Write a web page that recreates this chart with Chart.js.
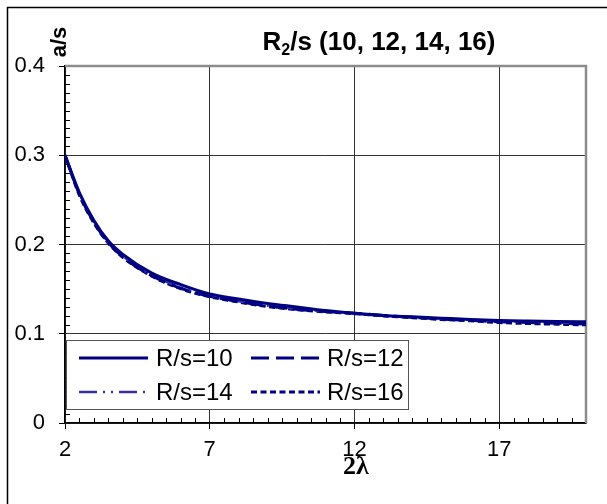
<!DOCTYPE html>
<html><head><meta charset="utf-8">
<script src="https://cdn.jsdelivr.net/npm/chart.js@4/dist/chart.umd.min.js"></script>
<style>html,body{margin:0;padding:0;background:#fff;overflow:hidden}#wrap{width:607px;height:504px;position:relative}</style>
</head><body><div id="wrap"><canvas id="c" width="607" height="504"></canvas></div>
<script>
// ---- data ----
const xValues = [2, 2.5, 3, 3.5, 4, 5, 6, 7, 8, 9, 10, 11, 12, 13, 14, 15, 16, 17, 18, 19, 20];
const r10 = [0.300, 0.258, 0.227, 0.204, 0.189, 0.168, 0.155, 0.1445, 0.139, 0.134, 0.130, 0.126, 0.123, 0.1205, 0.119, 0.1175, 0.116, 0.1148, 0.1142, 0.1138, 0.1135];
const r12 = [0.300, 0.256, 0.225, 0.202, 0.186, 0.165, 0.151, 0.142, 0.136, 0.131, 0.1275, 0.125, 0.123, 0.1205, 0.1185, 0.1165, 0.115, 0.1135, 0.1125, 0.1118, 0.111];
const r14 = [0.300, 0.257, 0.2255, 0.203, 0.187, 0.166, 0.152, 0.1425, 0.1365, 0.1315, 0.128, 0.125, 0.1228, 0.1205, 0.1187, 0.117, 0.1155, 0.1142, 0.1133, 0.1125, 0.1118];
const r16 = [0.300, 0.255, 0.224, 0.2015, 0.1855, 0.1645, 0.1505, 0.1415, 0.1355, 0.1305, 0.127, 0.1245, 0.1225, 0.120, 0.118, 0.116, 0.1145, 0.1125, 0.1115, 0.1107, 0.110];
const seriesLabels = ['R/s=10', 'R/s=12', 'R/s=14', 'R/s=16'];
const xTicks = [2, 7, 12, 17];
const yTicks = [0, 0.1, 0.2, 0.3, 0.4];
const yTickLabels = ['0', '0.1', '0.2', '0.3', '0.4'];
const titleMain = 'R';
const titleSub = '2';
const titleRest = '/s (10, 12, 14, 16)';
const yAxisTitle = 'a/s';
const xAxisTitle = '2λ';

const SANS = '"Liberation Sans", Arial, sans-serif';
const SERIF = '"Liberation Serif", "Times New Roman", serif';
const pts = arr => xValues.map((x, i) => ({x: x, y: arr[i]}));

const styles = [
  {color: '#000080', dash: [], width: 3},
  {color: '#000080', dash: [18, 7], width: 3},
  {color: '#33339f', dash: [18, 6, 2, 6, 2, 6], width: 2.5},
  {color: '#000080', dash: [6, 3.5], width: 3}
];
const seriesData = [r10, r12, r14, r16];

const decor = {
  id: 'decor',
  beforeDraw(chart) {
    const c = chart.ctx;
    c.save();
    c.fillStyle = '#fff';
    c.fillRect(0, 0, chart.width, chart.height);
    c.strokeStyle = '#000';
    c.lineWidth = 1.5;
    c.strokeRect(7.5, 7.5, 700, 700);
    c.restore();
  },
  beforeDatasetsDraw(chart) {
    const c = chart.ctx, a = chart.chartArea;
    const xs = chart.scales.x, ys = chart.scales.y;
    c.save();
    c.strokeStyle = '#000';
    c.lineWidth = 1;
    for (let k = 1; k < 40; k++) {
      if (k % 10 === 0) continue;
      const py = Math.round(ys.getPixelForValue(k / 100)) + 0.5;
      c.beginPath(); c.moveTo(a.left, py); c.lineTo(a.left + 5, py); c.stroke();
    }
    for (let k = 5; k < 40; k++) {
      const v = k / 2;
      if (xTicks.includes(v)) continue;
      const px = Math.round(xs.getPixelForValue(v)) + 0.5;
      c.beginPath(); c.moveTo(px, a.bottom); c.lineTo(px, a.bottom - 5); c.stroke();
    }
    c.strokeStyle = '#8c8c8c';
    c.lineWidth = 2.5;
    c.beginPath();
    c.moveTo(a.left, a.top); c.lineTo(a.right, a.top); c.lineTo(a.right, a.bottom);
    c.stroke();
    c.restore();
  },
  afterDatasetsDraw(chart) {
    const c = chart.ctx;
    c.save();
    const L = 66, T = 340, R = 409, B = 410;
    c.fillStyle = '#fff';
    c.fillRect(L, T, R - L, B - T);
    c.strokeStyle = '#555';
    c.lineWidth = 1;
    c.strokeRect(L + 0.5, T + 0.5, R - L - 1, B - T - 1);
    const cols = [[79, 148, 156], [251, 320, 327]];
    const rows = [358, 392];
    c.font = '24px ' + SANS;
    c.textBaseline = 'middle';
    c.textAlign = 'left';
    chart.data.datasets.forEach((ds, i) => {
      const col = cols[i % 2], ry = rows[Math.floor(i / 2)];
      c.strokeStyle = ds.borderColor;
      c.lineWidth = ds.borderWidth;
      c.setLineDash(ds.borderDash || []);
      c.beginPath(); c.moveTo(col[0], ry); c.lineTo(col[1], ry); c.stroke();
      c.setLineDash([]);
      c.fillStyle = '#000';
      c.fillText(ds.label, col[2], ry + 1);
    });
    c.restore();
  },
  afterDraw(chart) {
    const c = chart.ctx;
    c.save();
    c.fillStyle = '#000';
    const fMain = 'bold 26px ' + SANS, fSub = 'bold 16px ' + SANS;
    c.font = fMain; const w1 = c.measureText(titleMain).width;
    const w3 = c.measureText(titleRest).width;
    c.font = fSub; const w2 = c.measureText(titleSub).width;
    let x = 379 - (w1 + w2 + w3) / 2;
    const base = 50;
    c.textBaseline = 'alphabetic'; c.textAlign = 'left';
    c.font = fMain; c.fillText(titleMain, x, base); x += w1;
    c.font = fSub; c.fillText(titleSub, x, base + 5); x += w2;
    c.font = fMain; c.fillText(titleRest, x, base);
    c.save();
    c.translate(60, 42);
    c.rotate(-Math.PI / 2);
    c.font = 'bold 22px ' + SANS;
    c.textAlign = 'center'; c.textBaseline = 'middle';
    c.fillText(yAxisTitle, 0, 0);
    c.restore();
    c.font = 'bold 26px ' + SERIF;
    c.textAlign = 'center'; c.textBaseline = 'middle';
    c.fillText(xAxisTitle, 356, 467);
    c.restore();
  }
};

new Chart(document.getElementById('c'), {
  type: 'line',
  data: {
    datasets: seriesData.map((arr, i) => ({
      label: seriesLabels[i],
      data: pts(arr),
      borderColor: styles[i].color,
      backgroundColor: styles[i].color,
      borderDash: styles[i].dash,
      borderWidth: styles[i].width,
      pointRadius: 0,
      fill: false,
      cubicInterpolationMode: 'monotone'
    }))
  },
  options: {
    responsive: false,
    animation: false,
    devicePixelRatio: 1,
    layout: {padding: {left: 0, top: 66, right: 21, bottom: 0}},
    plugins: {legend: {display: false}, title: {display: false}, tooltip: {enabled: false}},
    scales: {
      x: {
        type: 'linear', min: 2, max: 20,
        afterBuildTicks: s => { s.ticks = xTicks.map(v => ({value: v})); },
        afterFit: s => { s.height = 81; },
        ticks: {color: '#000', font: {family: SANS, size: 22}, padding: 8, maxRotation: 0, autoSkip: false,
          callback: v => String(v)},
        grid: {color: '#333', lineWidth: 1, tickLength: 6, tickColor: '#000'},
        border: {color: '#000', width: 1.5}
      },
      y: {
        type: 'linear', min: 0, max: 0.4,
        afterBuildTicks: s => { s.ticks = yTicks.map(v => ({value: v})); },
        afterFit: s => { s.width = 65; },
        ticks: {color: '#000', font: {family: SANS, size: 22}, padding: 14,
          callback: (v, i) => yTickLabels[i]},
        grid: {color: ctx => (ctx.tick && ctx.tick.value === 0.4) ? 'rgba(0,0,0,0)' : '#333', lineWidth: 1, tickLength: 6, tickColor: '#000'},
        border: {color: '#000', width: 1.5}
      }
    }
  },
  plugins: [decor]
});
</script>
</body></html>
